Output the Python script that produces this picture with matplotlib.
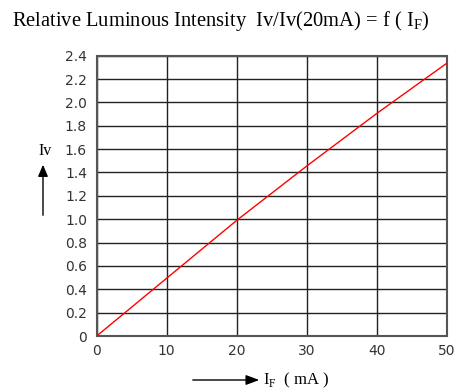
import matplotlib.pyplot as plt

# Relative luminous intensity vs forward current
i_f = [0, 10, 20, 30, 40, 50]
iv_rel = [0, 0.495, 0.99, 1.455, 1.905, 2.335]

x_ticks = [0, 10, 20, 30, 40, 50]
y_ticks = [0, 0.2, 0.4, 0.6, 0.8, 1.0, 1.2, 1.4, 1.6, 1.8, 2.0, 2.2, 2.4]
y_labels = ["0", "0.2", "0.4", "0.6", "0.8", "1.0", "1.2", "1.4", "1.6", "1.8", "2.0", "2.2", "2.4"]


def main():
    fig = plt.figure(figsize=(4.62, 3.92), dpi=100)
    ax = fig.add_axes([96.7 / 462, 56 / 392, 350 / 462, 280.3 / 392])

    ax.plot(i_f, iv_rel, color="red", linewidth=1.0, zorder=3)

    ax.set_xlim(0, 50)
    ax.set_ylim(0, 2.4)
    ax.set_xticks(x_ticks)
    ax.set_yticks(y_ticks)
    ax.set_yticklabels(y_labels)
    ax.tick_params(length=0, pad=7, labelsize=10, colors="#333333")
    ax.tick_params(axis="x", pad=6)
    ax.grid(True, color="#222222", linewidth=1.0)
    for s in ax.spines.values():
        s.set_color("#555555")
        s.set_linewidth(1.5)

    serif = "Liberation Serif"
    fig.text(12 / 462, 1 - 21 / 392,
             r"Relative Luminous Intensity  Iv/Iv(20mA) = f ( I$_{\mathregular{F}}$)",
             fontsize=14.8, family=serif, va="center", ha="left")

    # y axis label with arrow
    fig.text(45 / 462, 1 - 151 / 392, "Iv", fontsize=11.5, family=serif, ha="center", va="center")
    fig.patches.append(plt.matplotlib.patches.FancyArrowPatch(
        (43 / 462, 1 - 218 / 392), (43 / 462, 1 - 162 / 392), transform=fig.transFigure,
        arrowstyle="-|>,head_length=7,head_width=3", color="black", linewidth=1.0))

    # x axis label with arrow
    fig.patches.append(plt.matplotlib.patches.FancyArrowPatch(
        (190 / 462, 1 - 380 / 392), (262 / 462, 1 - 380 / 392), transform=fig.transFigure,
        arrowstyle="-|>,head_length=8,head_width=3", color="black", linewidth=1.0))
    fig.text(263 / 462, 1 - 380 / 392, r"I$_{\mathregular{F}}$  ( mA )", fontsize=12,
             family=serif, ha="left", va="center")

    fig.savefig("out.png", dpi=100)


if __name__ == "__main__": main()
